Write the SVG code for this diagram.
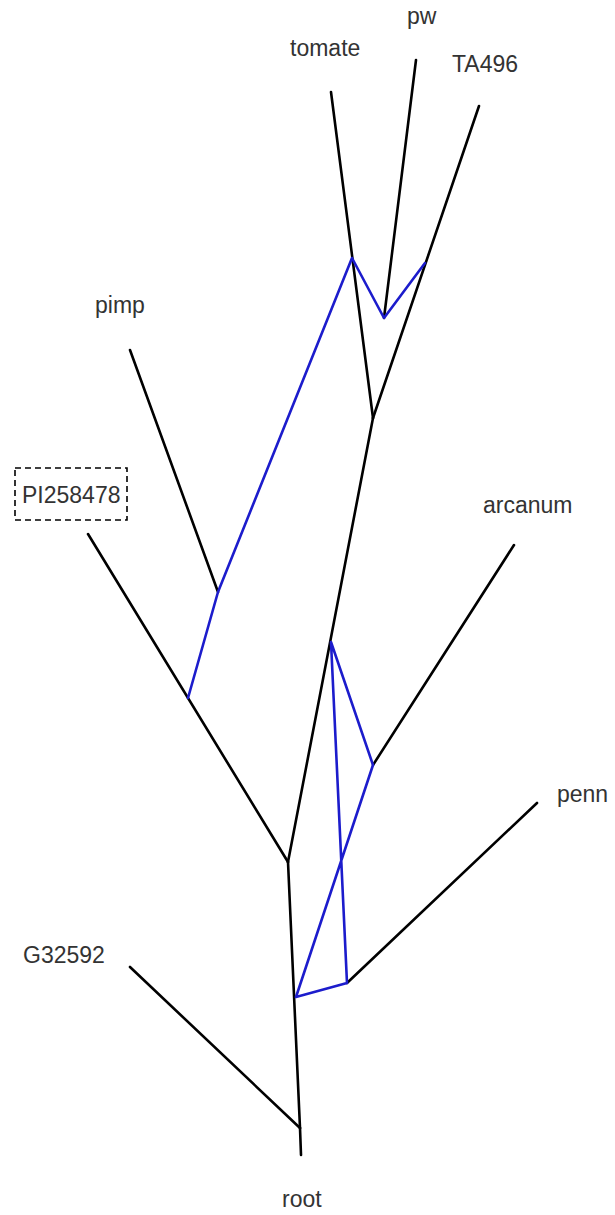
<svg xmlns="http://www.w3.org/2000/svg" width="615" height="1215" viewBox="0 0 615 1215">
<style>
.e{stroke:#000;stroke-width:2.6;fill:none;stroke-linecap:round;stroke-linejoin:round}
.h{stroke:#1c1ccc;stroke-width:2.6;fill:none;stroke-linecap:round;stroke-linejoin:round}
text{font-family:"Liberation Sans",Arial,sans-serif;font-size:23px;fill:#333}
</style>
<rect width="615" height="1215" fill="#fff"/>
<g id="connectors">
<line class="e" x1="331" y1="92" x2="373" y2="418"/>
<line class="e" x1="416" y1="60" x2="384" y2="318"/>
<line class="e" x1="479" y1="106" x2="373" y2="418"/>
<line class="e" x1="373" y1="418" x2="288" y2="862"/>
<line class="e" x1="130" y1="350" x2="218" y2="592"/>
<line class="e" x1="88" y1="534" x2="288" y2="862"/>
<line class="e" x1="514" y1="545" x2="373" y2="765"/>
<line class="e" x1="537" y1="803" x2="347" y2="983"/>
<line class="e" x1="288" y1="862" x2="300" y2="1128"/>
<line class="e" x1="130" y1="967" x2="300" y2="1128"/>
<line class="e" x1="300" y1="1128" x2="301" y2="1155"/>
<polyline class="h" points="188,698 218,592 352,258 384,318 425,263"/>
<polyline class="h" points="331,642 373,765 296,997 347,983 331,642"/>
</g>
<g id="tomate"><text x="290" y="56">tomate</text></g>
<g id="pw"><text x="407" y="24">pw</text></g>
<g id="TA496"><text x="452" y="72">TA496</text></g>
<g id="pimp"><text x="95" y="313">pimp</text></g>
<g id="PI258478"><rect x="15" y="468" width="112" height="52" fill="none" stroke="#000" stroke-width="1.6" stroke-dasharray="6,4"/><text x="22" y="503">PI258478</text></g>
<g id="arcanum"><text x="483" y="513">arcanum</text></g>
<g id="penn"><text x="557" y="802">penn</text></g>
<g id="G32592"><text x="23" y="963">G32592</text></g>
<g id="root"><text x="282" y="1207">root</text></g>
</svg>
